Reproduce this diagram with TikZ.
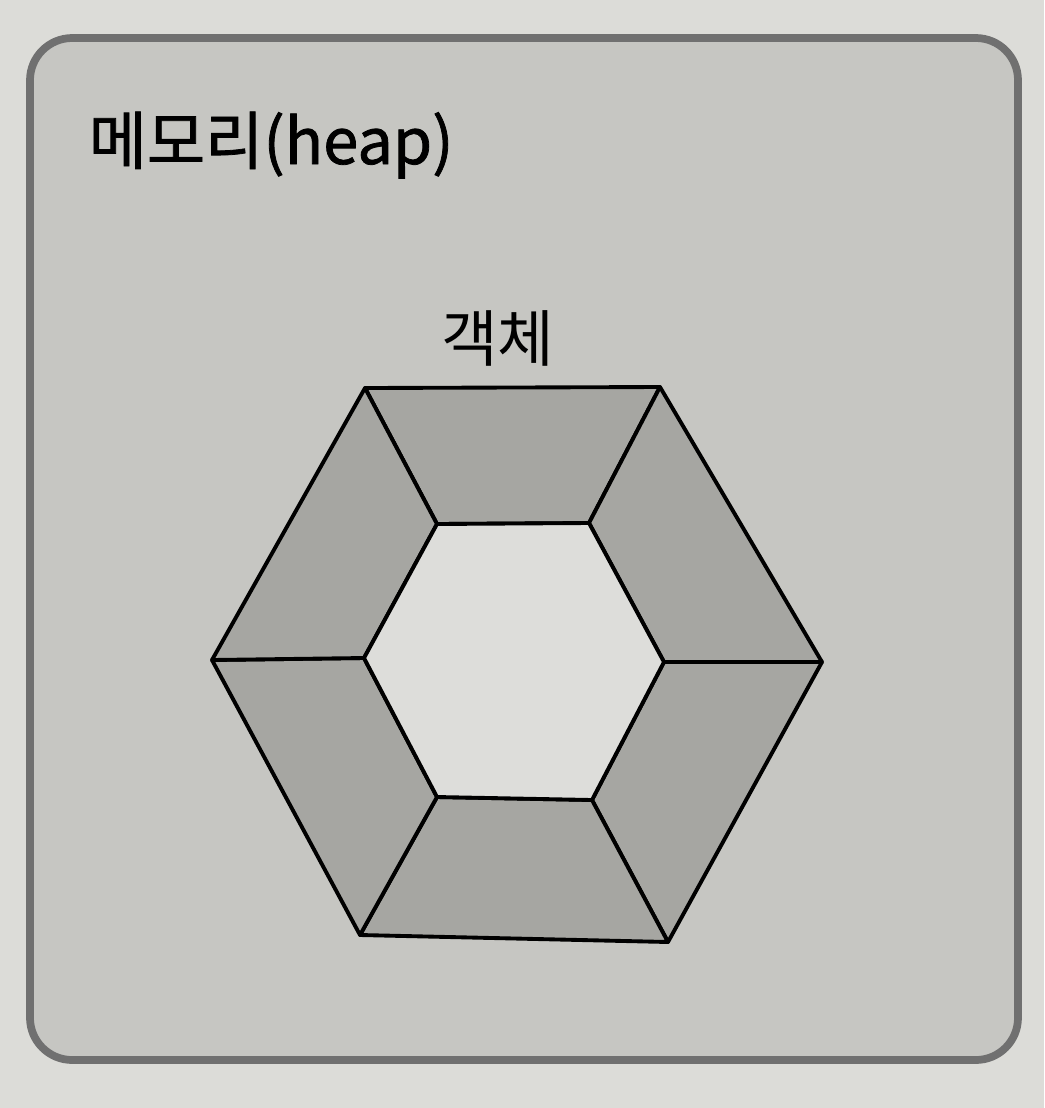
\documentclass[tikz,border=0pt]{standalone}
\usepackage{fontspec}
\newfontfamily\kor{Noto Sans CJK KR}
\newfontfamily\korbold[FakeBold=1.2]{Noto Sans CJK KR}
\definecolor{paper}{HTML}{DCDCD8}
\definecolor{heapgray}{HTML}{C6C6C2}
\definecolor{edgegray}{HTML}{707070}
\definecolor{seggray}{HTML}{A6A6A2}
\definecolor{corewhite}{HTML}{DDDDDA}

\begin{document}
\begin{tikzpicture}[
		x=0.01cm, y=-0.01cm,
		every node/.style={inner sep=0pt, font=\kor},
		seg/.style={draw, line width=1.1pt, fill=seggray, line join=round}
	]
  \fill[paper] (0,0) rectangle (1044,1108);
  \draw[rounded corners=12pt, fill=heapgray, draw=edgegray, line width=2.2pt] (30,38) rectangle (1018,1060);
  \node (title) [anchor=base west, font=\korbold\fontsize{18}{22}\selectfont] at (88,164) {메모리(heap)};
  \node (obj) [font=\kor\fontsize{17.5}{20}\selectfont] at (498,338) {객체};
  % outer hexagon
  \coordinate (o1) at (365,388);
  \coordinate (o2) at (660,387);
  \coordinate (o3) at (822,662);
  \coordinate (o4) at (668,942);
  \coordinate (o5) at (360,935);
  \coordinate (o6) at (212,660);
  % inner hexagon
  \coordinate (n1) at (437,524);
  \coordinate (n2) at (589,523);
  \coordinate (n3) at (664,662);
  \coordinate (n4) at (592,800);
  \coordinate (n5) at (437,797);
  \coordinate (n6) at (364,658);
  \foreach \i/\j in {1/2, 2/3, 3/4, 4/5, 5/6, 6/1}
    \draw[seg] (o\i) -- (o\j) -- (n\j) -- (n\i) -- cycle;
  \draw[line width=1.1pt, fill=corewhite] (n1) -- (n2) -- (n3) -- (n4) -- (n5) -- (n6) -- cycle;
\end{tikzpicture}
\end{document}
